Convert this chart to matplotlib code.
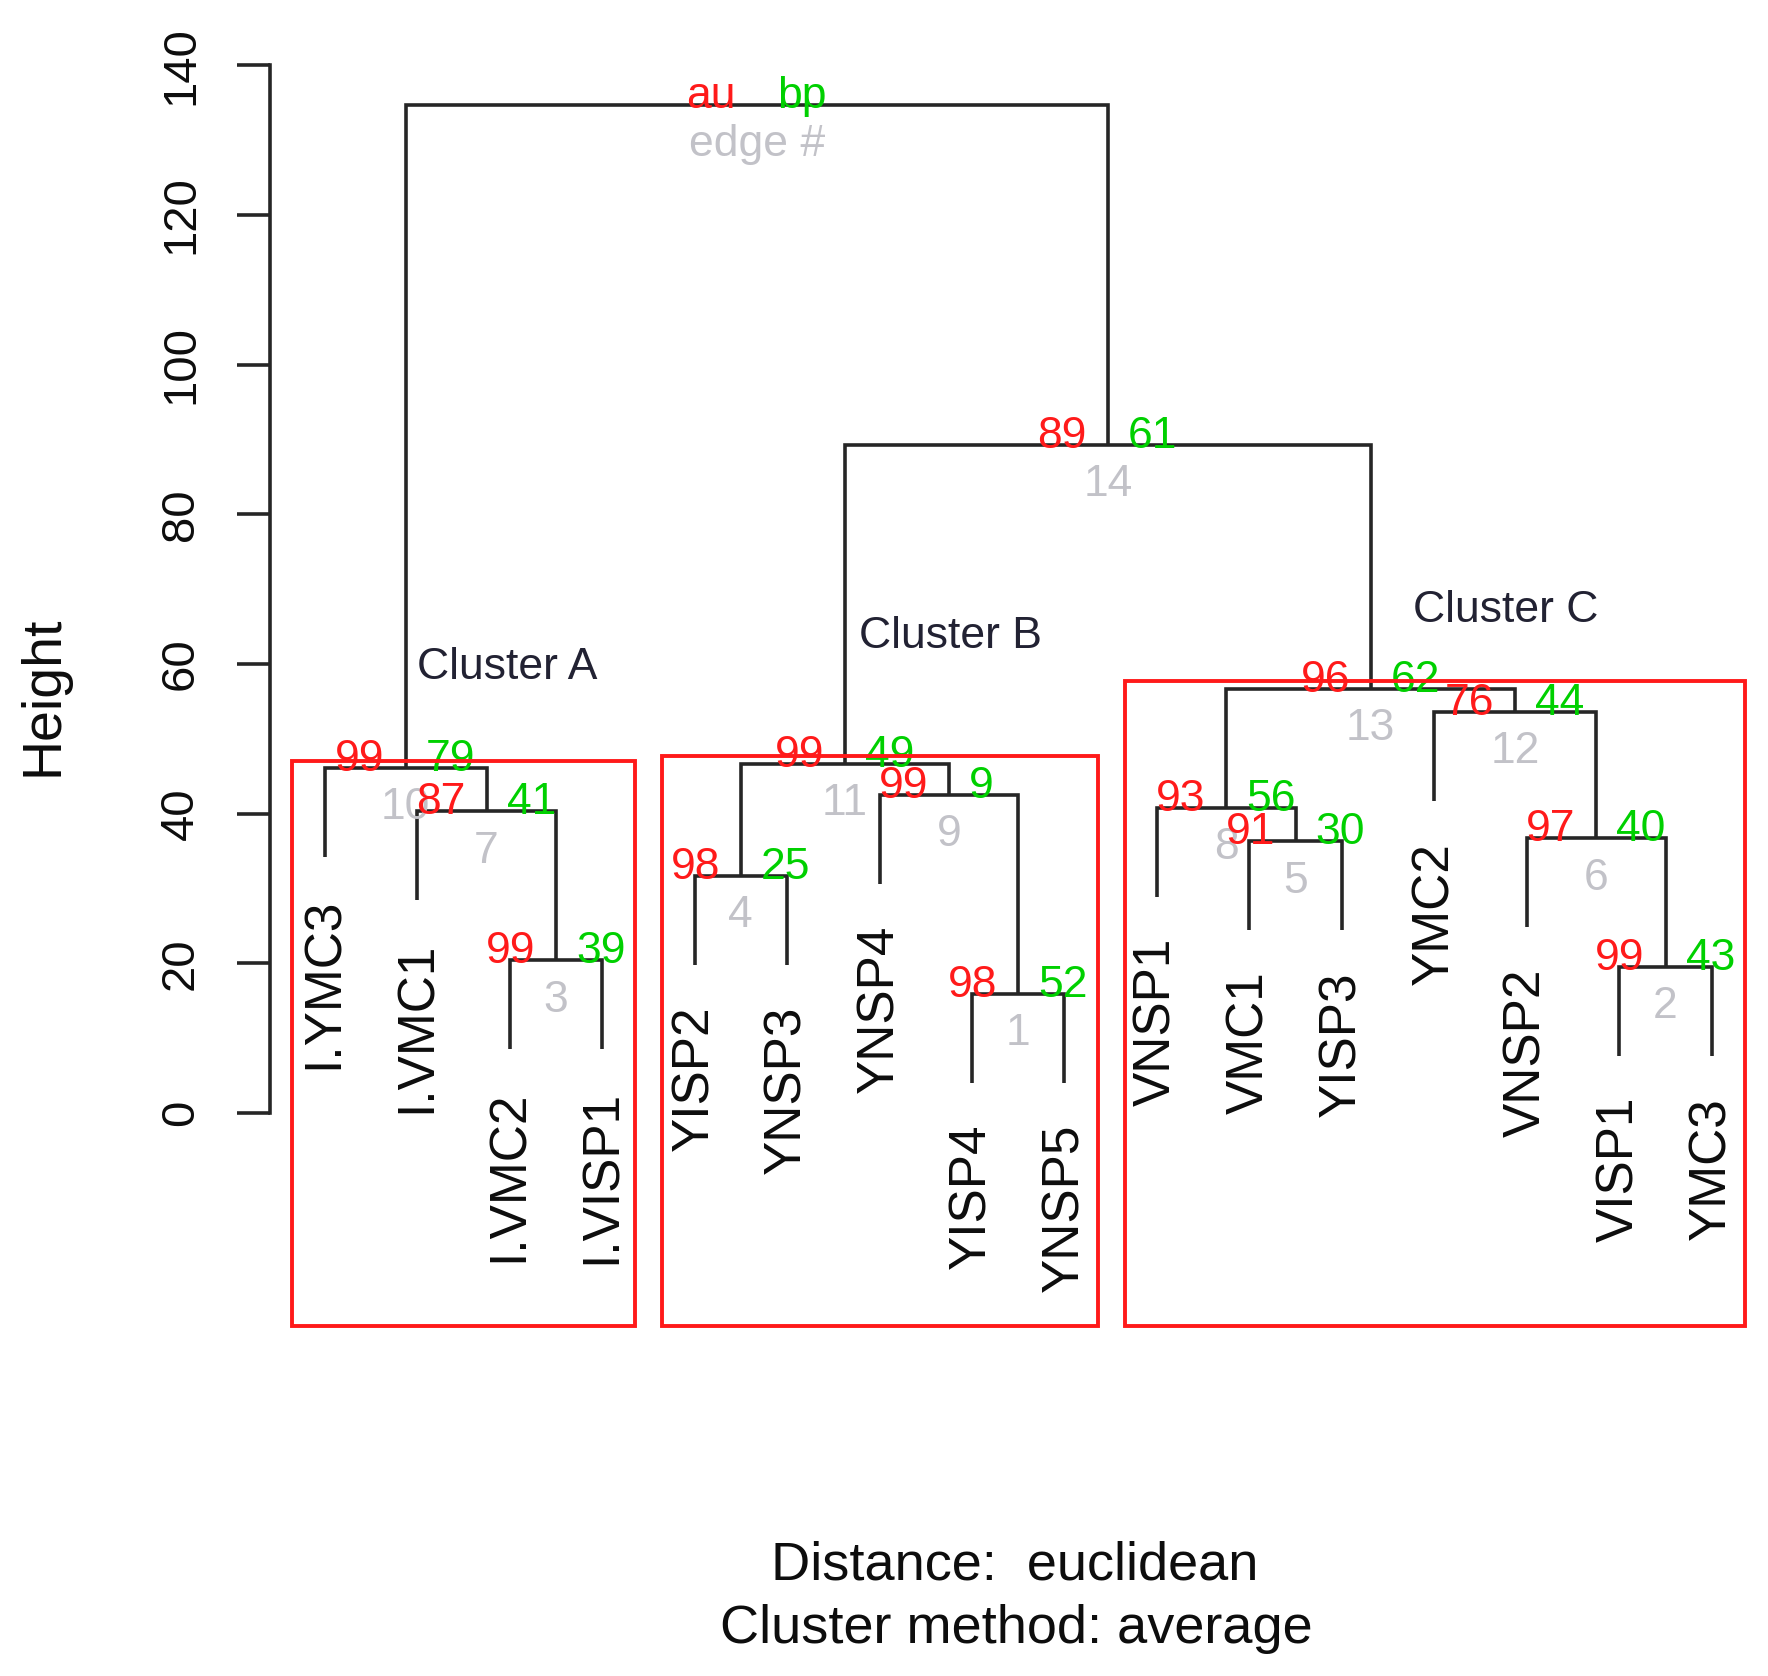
import matplotlib
matplotlib.use("Agg")
import matplotlib.pyplot as plt
from matplotlib.patches import Rectangle

plt.rcParams['font.family'] = ['Liberation Sans', 'DejaVu Sans']

# ---------------- data ----------------
leaf_labels = ["I.YMC3", "I.VMC1", "I.VMC2", "I.VISP1", "YISP2", "YNSP3", "YNSP4",
               "YISP4", "YNSP5", "VNSP1", "VMC1", "YISP3", "YMC2", "VNSP2", "VISP1", "YMC3"]
# hclust-style merge table (negative = leaf position, positive = earlier merge / edge #)
merge_left = [-8, -15, -3, -5, -11, -14, -2, -10, -7, -1, 4, -13, 8, 11, 10]
merge_right = [-9, -16, -4, -6, -12, 2, 3, 5, 1, 7, 9, 6, 12, 13, 14]
merge_height = [15.9, 19.5, 20.4, 31.7, 36.3, 36.7, 40.3, 40.8, 42.5, 46.1, 46.7,
                53.6, 56.7, 89.3, 134.7]
au_values = [98, 99, 99, 98, 91, 97, 87, 93, 99, 99, 99, 76, 96, 89]
bp_values = [52, 43, 39, 25, 30, 40, 41, 56, 9, 79, 49, 44, 62, 61]
cluster_names = ["Cluster A", "Cluster B", "Cluster C"]
cluster_edges = [10, 11, 13]
y_ticks = [0, 20, 40, 60, 80, 100, 120, 140]

# ---------------- layout / style ----------------
W, H, DPI = 1768, 1676, 100
LINE_COL = "#262626"
RED = "#ff1a1a"
GREEN = "#00d000"
GRAY = "#c2c2c8"
PV_SIZE = 32
cluster_label_pos = [(2.0, 59.6), (6.78, 63.7), (12.77, 67.2)]

fig = plt.figure(figsize=(W / DPI, H / DPI), dpi=DPI)
ax = fig.add_axes([0, 0, 1, 1])
ax.set_xlim(-2.511, 16.608)
ax.set_ylim(-75.24, 148.74)

n = len(leaf_labels)
hang = 0.1 * (max(merge_height) - min(merge_height))

node_x = {}
leaf_bottom = {}


def child_pos(c, h):
    if c < 0:
        x = float(-c)
        y = h - hang
        leaf_bottom[-c] = y
        return x, y
    return node_x[c], merge_height[c - 1]


for i, (l, r, h) in enumerate(zip(merge_left, merge_right, merge_height), start=1):
    xl, yl = child_pos(l, h)
    xr, yr = child_pos(r, h)
    ax.plot([xl, xl, xr, xr], [yl, h, h, yr], color=LINE_COL, lw=2.6,
            solid_capstyle='butt', solid_joinstyle='miter', zorder=2)
    node_x[i] = (xl + xr) / 2

# leaf labels
for k, lab in enumerate(leaf_labels, start=1):
    ax.annotate(lab, xy=(k, leaf_bottom[k]), xytext=(0, -29.5), textcoords='offset points',
                rotation=90, ha='center', va='top', fontsize=37, color='#0d0d0d')

# au / bp / edge numbers
for i in range(1, len(merge_height)):
    x, h = node_x[i], merge_height[i - 1]
    ax.annotate(str(i), xy=(x, h), xytext=(0, -37), textcoords='offset points',
                ha='center', va='baseline', fontsize=PV_SIZE, color=GRAY, zorder=3)
    ax.annotate(str(au_values[i - 1]), xy=(x, h), xytext=(-15, -2.2), textcoords='offset points',
                ha='right', va='baseline', fontsize=PV_SIZE, color=RED, zorder=4)
    ax.annotate(str(bp_values[i - 1]), xy=(x, h), xytext=(14.5, -2.2), textcoords='offset points',
                ha='left', va='baseline', fontsize=PV_SIZE, color=GREEN, zorder=4)

root = len(merge_height)
rx, rh = node_x[root], merge_height[root - 1]
ax.annotate("au", xy=(rx, rh), xytext=(-15, -2.2), textcoords='offset points',
            ha='right', va='baseline', fontsize=PV_SIZE, color=RED, zorder=4)
ax.annotate("bp", xy=(rx, rh), xytext=(14.5, -2.2), textcoords='offset points',
            ha='left', va='baseline', fontsize=PV_SIZE, color=GREEN, zorder=4)
ax.annotate("edge #", xy=(rx, rh), xytext=(0, -37), textcoords='offset points',
            ha='center', va='baseline', fontsize=PV_SIZE, color=GRAY, zorder=3)


# cluster rectangles
def leaves_of(c):
    if c < 0:
        return [-c]
    return leaves_of(merge_left[c - 1]) + leaves_of(merge_right[c - 1])


for name, e, (lx, ly) in zip(cluster_names, cluster_edges, cluster_label_pos):
    lv = leaves_of(e)
    x0, x1 = min(lv) - 0.35, max(lv) + 0.36
    y0, y1 = -28.5, merge_height[e - 1] + 1.0
    ax.add_patch(Rectangle((x0, y0), x1 - x0, y1 - y0, fill=False, edgecolor=RED,
                           lw=2.8, zorder=5))
    ax.text(lx, ly, name, ha='left', va='center', fontsize=32, color='#222233')

# axes
for s in ['top', 'right', 'bottom']:
    ax.spines[s].set_visible(False)
ax.spines['left'].set_position(('data', 0.409))
ax.spines['left'].set_bounds(0, 140)
ax.spines['left'].set_linewidth(2.6)
ax.spines['left'].set_color(LINE_COL)
ax.set_xticks([])
ax.set_yticks(y_ticks)
ax.set_yticklabels([str(t) for t in y_ticks], rotation=90, va='center')
ax.tick_params(axis='y', length=23.8, width=2.6, color=LINE_COL, labelsize=34, pad=24.5,
               labelcolor='#0d0d0d')
ax.set_ylabel("Height", fontsize=40, color='#0d0d0d', rotation=90, va='center', ha='center')
ax.yaxis.set_label_coords(43 / W, 1 - 696 / H)

fig.text(1014.5 / W, 1 - 1565 / H, "Distance:  euclidean", ha='center', va='center',
         fontsize=39, color='#0d0d0d')
fig.text(1016.7 / W, 1 - 1629 / H, "Cluster method: average", ha='center', va='center',
         fontsize=39, color='#0d0d0d')

fig.savefig("out.png", dpi=DPI, facecolor='white')
